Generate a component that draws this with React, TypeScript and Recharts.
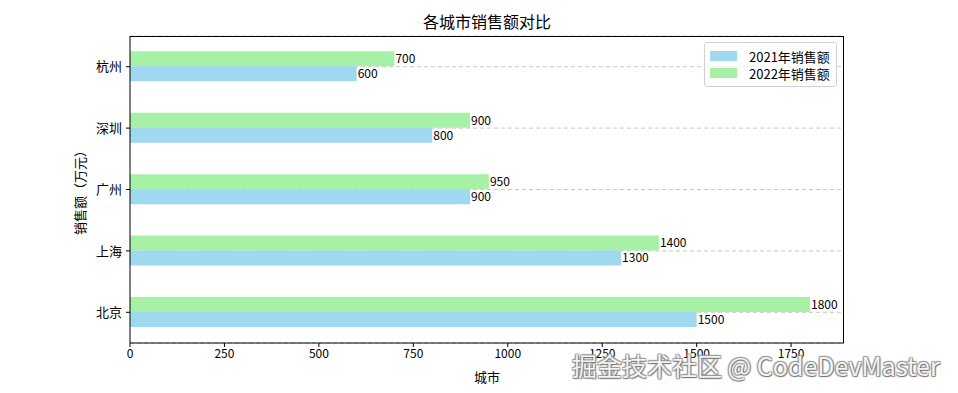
import { BarChart, Bar, XAxis, YAxis, CartesianGrid, LabelList } from 'recharts'

const cities = ['北京', '上海', '广州', '深圳', '杭州']
const sales2021 = [1500, 1300, 900, 800, 600]
const sales2022 = [1800, 1400, 950, 900, 700]
const xTicks = [0, 250, 500, 750, 1000, 1250, 1500, 1750]

const SERIES: [string, string, string][] = [
  ['y2021', '2021年销售额', '#9FD8EF'],
  ['y2022', '2022年销售额', '#A6F1A6'],
]

const data = cities.map((city, i) => ({ city, y2021: sales2021[i], y2022: sales2022[i] }))

const FONT = '"Noto Sans CJK SC", "DejaVu Sans", sans-serif'

function LegendBox() {
  return (
    <div style={{
      position: 'absolute', left: 704, top: 42, width: 121, height: 33,
      border: '1px solid #d0d0d0', borderRadius: 3, background: 'rgba(255,255,255,0.8)',
      padding: '5px 5px 5px 5px', fontSize: 13, color: '#000', whiteSpace: 'nowrap',
    }}>
      {SERIES.map(([key, label, color]) => (
        <div key={key} style={{ display: 'flex', alignItems: 'center', height: 20, marginTop: key === 'y2021' ? -2 : -3 }}>
          <div style={{ width: 27, height: 10, background: color, marginRight: 12 }} />
          <span>{label}</span>
        </div>
      ))}
    </div>
  )
}

export default function App() {
  return (
    <div style={{ position: 'absolute', left: 0, top: 0, width: 958, height: 393, background: '#fff', fontFamily: FONT }}>
      <div style={{ position: 'absolute', left: 130, width: 714, top: 9, textAlign: 'center', fontSize: 16, color: '#000' }}>
        各城市销售额对比
      </div>
      <BarChart
        width={958}
        height={393}
        data={data}
        layout="vertical"
        margin={{ top: 36, right: 114, left: 74, bottom: 30 }}
        barCategoryGap="25%"
        barGap={0}
      >
        <CartesianGrid horizontal vertical={false} stroke="#c8c8c8" strokeDasharray="4 3" />
        <XAxis
          type="number"
          domain={[0, 1890]}
          ticks={xTicks}
          allowDataOverflow
          height={20}
          stroke="#000"
          tickSize={4}
          tickMargin={2}
          tick={{ fontSize: 12, fill: '#000' }}
          label={{ value: '城市', position: 'insideBottom', offset: -19, fontSize: 13, fill: '#000' }}
        />
        <YAxis
          type="category"
          dataKey="city"
          reversed
          width={56}
          stroke="#000"
          tickSize={4}
          tickMargin={4}
          tick={{ fontSize: 13, fill: '#000' }}
          label={{ value: '销售额（万元）', angle: -90, position: 'insideLeft', offset: 0, dx: 6, fontSize: 13, fill: '#000', style: { textAnchor: 'middle' } }}
        />
        <Bar dataKey="y2022" name="2022年销售额" fill="#A6F1A6" isAnimationActive={false}>
          <LabelList dataKey="y2022" position="right" offset={1} fill="#000" fontSize={12} />
        </Bar>
        <Bar dataKey="y2021" name="2021年销售额" fill="#9FD8EF" isAnimationActive={false}>
          <LabelList dataKey="y2021" position="right" offset={1} fill="#000" fontSize={12} />
        </Bar>
      </BarChart>
      {/* matplotlib-style frame around the plot area */}
      <div style={{ position: 'absolute', left: 130, top: 36, width: 713, height: 306, border: '1px solid #000', borderLeft: 'none', borderBottom: 'none', pointerEvents: 'none' }} />
      <LegendBox />
      <div style={{
        position: 'absolute', left: 572, top: 347, fontSize: 25, color: 'rgba(255,255,255,0.92)', whiteSpace: 'nowrap',
        textShadow: '1px 1px 1px #777, -1px -1px 1px #999, 1px -1px 1px #999, -1px 1px 1px #999',
      }}>
        掘金技术社区 @ CodeDevMaster
      </div>
    </div>
  )
}
